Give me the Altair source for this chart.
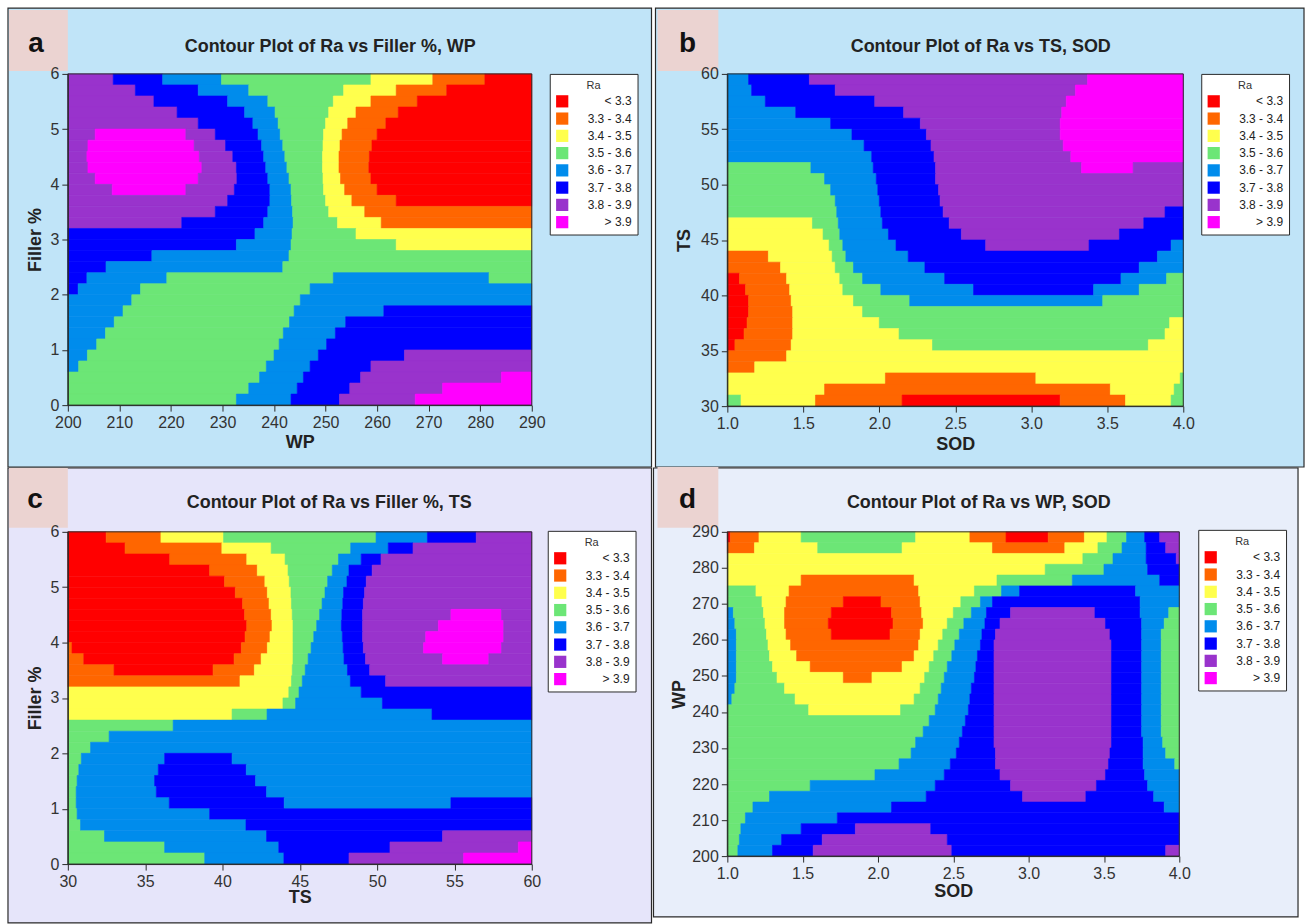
import altair as alt
import pandas as pd

# ---------------- data ----------------
BANDS = ["< 3.3", "3.3 - 3.4", "3.4 - 3.5", "3.5 - 3.6",
         "3.6 - 3.7", "3.7 - 3.8", "3.8 - 3.9", "> 3.9"]
BAND_COLORS = ["#FF0000", "#FF6600", "#FFFF4D", "#6CE676",
               "#008CEC", "#0000FF", "#9933CC", "#FF00FF"]

# each row: band index, right end of that band, band index, right end, ...
# Panel a: rows of Filler % from 6 down to 0 (0.2 each), x = WP
A_ROWS = [
    [6, 208.8, 5, 218.4, 4, 229.8, 3, 258.8, 2, 270.8, 1, 280.9, 0, 290],
    [6, 213.1, 5, 225.3, 4, 235.1, 3, 253.5, 2, 263.7, 1, 273.5, 0, 290],
    [6, 216.7, 5, 231.0, 4, 238.8, 3, 251.5, 2, 258.8, 1, 267.8, 0, 290],
    [6, 221.2, 5, 234.3, 4, 240.2, 3, 250.6, 2, 255.9, 1, 264.1, 0, 290],
    [6, 225.3, 5, 235.9, 4, 240.8, 3, 250.0, 2, 254.3, 1, 261.7, 0, 290],
    [6, 205.3, 7, 222.9, 6, 228.6, 5, 236.9, 4, 241.2, 3, 249.6, 2, 253.2, 1, 260.0, 0, 290],
    [6, 203.9, 7, 224.5, 6, 230.6, 5, 237.6, 4, 241.7, 3, 249.5, 2, 252.8, 1, 259.0, 0, 290],
    [6, 203.7, 7, 225.5, 6, 232.0, 5, 238.0, 4, 242.1, 3, 249.4, 2, 252.6, 1, 258.5, 0, 290],
    [6, 203.9, 7, 226.0, 6, 232.7, 5, 238.4, 4, 242.5, 3, 249.4, 2, 252.6, 1, 258.4, 0, 290],
    [6, 205.3, 7, 225.3, 6, 232.8, 5, 238.8, 4, 242.9, 3, 249.5, 2, 252.9, 1, 258.8, 0, 290],
    [6, 208.6, 7, 222.9, 6, 232.3, 5, 239.2, 4, 243.3, 3, 249.6, 2, 253.7, 1, 260.0, 0, 290],
    [6, 231.0, 5, 239.2, 4, 243.4, 3, 250.0, 2, 255.1, 1, 263.7, 0, 290],
    [6, 228.6, 5, 238.8, 4, 243.6, 3, 250.6, 2, 257.6, 1, 290],
    [6, 222.1, 5, 238.0, 4, 243.7, 3, 252.3, 2, 260.8, 1, 290],
    [5, 236.3, 4, 243.5, 3, 255.9, 2, 290],
    [5, 232.7, 4, 243.3, 3, 263.7, 2, 290],
    [5, 216.3, 4, 242.9, 3, 290],
    [5, 207.4, 4, 241.7, 3, 290],
    [5, 203.7, 4, 219.2, 3, 251.5, 4, 281.7, 3, 290],
    [5, 202.0, 4, 214.1, 3, 247.0, 4, 290],
    [4, 212.4, 3, 245.1, 4, 290],
    [4, 210.7, 3, 243.9, 4, 261.3, 5, 290],
    [4, 209.0, 3, 243.0, 4, 253.9, 5, 290],
    [4, 207.3, 3, 241.8, 4, 251.9, 5, 290],
    [4, 205.6, 3, 241.0, 4, 250.2, 5, 290],
    [4, 203.8, 3, 240.0, 4, 248.6, 5, 265.3, 6, 290],
    [4, 202.1, 3, 238.5, 4, 247.0, 5, 258.8, 6, 290],
    [3, 237.2, 4, 245.7, 5, 256.8, 6, 284.1, 7, 290],
    [3, 235.1, 4, 244.5, 5, 254.7, 6, 272.7, 7, 290],
    [3, 232.7, 4, 243.3, 5, 252.7, 6, 267.4, 7, 290],
]

# Panel b: rows of TS from 60 down to 30 (1 each), x = SOD
B_ROWS = [
    [4, 1.14, 5, 1.54, 6, 3.37, 7, 4.0],
    [4, 1.16, 5, 1.71, 6, 3.29, 7, 4.0],
    [4, 1.25, 5, 1.97, 6, 3.23, 7, 4.0],
    [4, 1.45, 5, 2.16, 6, 3.20, 7, 4.0],
    [4, 1.68, 5, 2.27, 6, 3.19, 7, 4.0],
    [4, 1.82, 5, 2.31, 6, 3.19, 7, 4.0],
    [4, 1.90, 5, 2.34, 6, 3.21, 7, 4.0],
    [4, 1.95, 5, 2.36, 6, 3.26, 7, 4.0],
    [3, 1.55, 4, 1.96, 5, 2.37, 6, 3.33, 7, 3.67, 6, 4.0],
    [3, 1.64, 4, 1.98, 5, 2.37, 6, 4.0],
    [3, 1.68, 4, 1.99, 5, 2.39, 6, 4.0],
    [3, 1.71, 4, 2.00, 5, 2.40, 6, 4.0],
    [3, 1.72, 4, 2.01, 5, 2.42, 6, 3.88, 5, 4.0],
    [2, 1.56, 3, 1.73, 4, 2.02, 5, 2.46, 6, 3.74, 5, 4.0],
    [2, 1.63, 3, 1.74, 4, 2.06, 5, 2.54, 6, 3.58, 5, 4.0],
    [2, 1.67, 3, 1.76, 4, 2.11, 5, 2.70, 6, 3.38, 5, 3.92, 4, 4.0],
    [1, 1.27, 2, 1.69, 3, 1.78, 4, 2.19, 5, 3.83, 4, 4.0],
    [1, 1.35, 2, 1.71, 3, 1.83, 4, 2.30, 5, 3.71, 4, 4.0],
    [0, 1.08, 1, 1.39, 2, 1.74, 3, 1.89, 4, 2.43, 5, 3.59, 4, 3.89, 3, 4.0],
    [0, 1.12, 1, 1.41, 2, 1.76, 3, 2.01, 4, 2.62, 5, 3.41, 4, 3.71, 3, 4.0],
    [0, 1.14, 1, 1.42, 2, 1.83, 3, 2.20, 4, 3.47, 3, 4.0],
    [0, 1.14, 1, 1.43, 2, 1.89, 3, 4.0],
    [0, 1.13, 1, 1.43, 2, 2.00, 3, 3.91, 2, 4.0],
    [0, 1.11, 1, 1.43, 2, 2.13, 3, 3.88, 2, 4.0],
    [0, 1.05, 1, 1.42, 2, 2.35, 3, 3.77, 2, 4.0],
    [1, 1.39, 2, 4.0],
    [1, 1.18, 2, 4.0],
    [2, 2.04, 1, 3.03, 2, 3.98, 3, 4.0],
    [2, 1.64, 1, 3.52, 2, 3.94, 3, 4.0],
    [3, 1.09, 2, 1.58, 1, 2.15, 0, 3.19, 1, 3.62, 2, 3.92, 3, 4.0],
]

# Panel c: rows of Filler % from 6 down to 0 (0.2 each), x = TS
C_ROWS = [
    [0, 32.48, 1, 36.02, 2, 40.07, 3, 49.93, 4, 53.25, 5, 56.41, 6, 60],
    [0, 33.70, 1, 39.96, 2, 43.15, 3, 48.29, 4, 50.72, 5, 52.32, 6, 60],
    [0, 36.59, 1, 41.57, 2, 44.05, 3, 47.50, 4, 48.97, 5, 50.25, 6, 60],
    [0, 39.17, 1, 42.25, 2, 44.24, 3, 47.10, 4, 48.18, 5, 49.68, 6, 60],
    [0, 40.13, 1, 42.74, 2, 44.32, 3, 46.80, 4, 48.05, 5, 49.30, 6, 60],
    [0, 40.83, 1, 42.90, 2, 44.43, 3, 46.63, 4, 47.83, 5, 49.19, 6, 60],
    [0, 41.30, 1, 43.01, 2, 44.46, 3, 46.44, 4, 47.78, 5, 49.11, 6, 60],
    [0, 41.43, 1, 43.15, 2, 44.51, 3, 46.28, 4, 47.72, 5, 49.06, 6, 54.77, 7, 58.04, 6, 60],
    [0, 41.57, 1, 43.20, 2, 44.56, 3, 46.09, 4, 47.69, 5, 49.06, 6, 53.96, 7, 58.18, 6, 60],
    [0, 41.46, 1, 43.07, 2, 44.56, 3, 45.90, 4, 47.75, 5, 49.06, 6, 53.14, 7, 58.18, 6, 60],
    [1, 30.27, 0, 41.22, 1, 42.90, 2, 44.56, 3, 45.73, 4, 47.80, 5, 49.11, 6, 53.00, 7, 58.04, 6, 60],
    [1, 31.03, 0, 40.75, 1, 42.50, 2, 44.56, 3, 45.54, 4, 47.86, 5, 49.25, 6, 54.23, 7, 57.22, 6, 60],
    [1, 32.99, 0, 39.39, 1, 42.06, 2, 44.51, 3, 45.35, 4, 48.08, 5, 49.52, 6, 60],
    [1, 41.13, 2, 44.46, 3, 45.16, 4, 48.27, 5, 50.55, 6, 60],
    [2, 44.29, 3, 44.95, 4, 48.97, 5, 60],
    [2, 43.91, 3, 44.73, 4, 50.34, 5, 60],
    [2, 40.62, 3, 42.88, 4, 53.55, 5, 60],
    [3, 36.81, 4, 60],
    [3, 32.67, 4, 60],
    [3, 31.47, 4, 60],
    [3, 30.87, 4, 36.26, 5, 40.62, 4, 60],
    [3, 30.71, 4, 35.85, 5, 41.54, 4, 60],
    [3, 30.60, 4, 35.61, 5, 42.14, 4, 60],
    [3, 30.54, 4, 35.72, 5, 42.85, 4, 60],
    [3, 30.54, 4, 36.56, 5, 43.99, 4, 54.77, 5, 60],
    [3, 30.60, 4, 39.17, 5, 60],
    [3, 30.82, 4, 41.52, 5, 60],
    [3, 32.37, 4, 42.85, 5, 54.23, 6, 60],
    [3, 36.26, 4, 43.64, 5, 50.83, 6, 59.13, 7, 60],
    [3, 38.85, 4, 43.97, 5, 48.18, 6, 55.59, 7, 60],
]

# Panel d: rows of WP from 290 down to 200 (3 each), x = SOD
D_ROWS = [
    [0, 1.02, 1, 1.21, 2, 1.49, 3, 2.25, 2, 2.61, 1, 2.85, 0, 3.13, 1, 3.37, 2, 3.52, 3, 3.65, 4, 3.77, 5, 3.87, 6, 4.0],
    [1, 1.18, 2, 1.60, 3, 2.16, 2, 2.76, 1, 3.24, 2, 3.46, 3, 3.62, 4, 3.78, 5, 3.91, 6, 4.0],
    [2, 3.36, 3, 3.56, 4, 3.78, 5, 3.98, 6, 4.0],
    [2, 3.11, 3, 3.50, 4, 3.79, 5, 4.0],
    [2, 1.49, 1, 2.24, 2, 2.79, 3, 3.29, 4, 3.87, 5, 4.0],
    [3, 1.19, 2, 1.41, 1, 2.27, 2, 2.64, 3, 2.82, 4, 2.94, 5, 3.71, 4, 4.0],
    [3, 1.23, 2, 1.39, 1, 1.77, 0, 2.02, 1, 2.28, 2, 2.55, 3, 2.68, 4, 2.76, 5, 3.74, 4, 4.0],
    [4, 1.04, 3, 1.24, 2, 1.38, 1, 1.69, 0, 2.09, 1, 2.29, 2, 2.50, 3, 2.62, 4, 2.72, 5, 2.88, 6, 3.44, 5, 3.74, 4, 3.93, 3, 4.0],
    [4, 1.05, 3, 1.25, 2, 1.38, 1, 1.67, 0, 2.10, 1, 2.30, 2, 2.46, 3, 2.57, 4, 2.71, 5, 2.81, 6, 3.51, 5, 3.75, 4, 3.90, 3, 4.0],
    [4, 1.06, 3, 1.26, 2, 1.39, 1, 1.69, 0, 2.08, 1, 2.28, 2, 2.43, 3, 2.54, 4, 2.69, 5, 2.78, 6, 3.54, 5, 3.75, 4, 3.88, 3, 4.0],
    [4, 1.06, 3, 1.27, 2, 1.42, 1, 2.27, 2, 2.40, 3, 2.51, 4, 2.68, 5, 2.77, 6, 3.55, 5, 3.75, 4, 3.88, 3, 4.0],
    [4, 1.06, 3, 1.28, 2, 1.46, 1, 2.24, 2, 2.37, 3, 2.49, 4, 2.66, 5, 2.77, 6, 3.55, 5, 3.75, 4, 3.88, 3, 4.0],
    [4, 1.06, 3, 1.30, 2, 1.55, 1, 2.16, 2, 2.34, 3, 2.46, 4, 2.65, 5, 2.77, 6, 3.55, 5, 3.75, 4, 3.88, 3, 4.0],
    [4, 1.06, 3, 1.33, 2, 1.77, 1, 1.96, 2, 2.31, 3, 2.44, 4, 2.64, 5, 2.77, 6, 3.55, 5, 3.75, 4, 3.88, 3, 4.0],
    [4, 1.05, 3, 1.38, 2, 2.28, 3, 2.42, 4, 2.62, 5, 2.77, 6, 3.55, 5, 3.75, 4, 3.88, 3, 4.0],
    [4, 1.03, 3, 1.45, 2, 2.24, 3, 2.40, 4, 2.61, 5, 2.77, 6, 3.55, 5, 3.75, 4, 3.88, 3, 4.0],
    [3, 1.54, 2, 2.15, 3, 2.38, 4, 2.60, 5, 2.77, 6, 3.55, 5, 3.75, 4, 3.88, 3, 4.0],
    [3, 2.34, 4, 2.58, 5, 2.77, 6, 3.55, 5, 3.75, 4, 3.88, 3, 4.0],
    [3, 2.30, 4, 2.56, 5, 2.77, 6, 3.55, 5, 3.75, 4, 3.88, 3, 4.0],
    [3, 2.25, 4, 2.54, 5, 2.77, 6, 3.55, 5, 3.76, 4, 3.89, 3, 4.0],
    [3, 2.22, 4, 2.52, 5, 2.78, 6, 3.54, 5, 3.76, 4, 3.91, 3, 4.0],
    [3, 2.14, 4, 2.48, 5, 2.78, 6, 3.53, 5, 3.76, 4, 3.97, 3, 4.0],
    [3, 1.98, 4, 2.44, 5, 2.81, 6, 3.51, 5, 3.77, 4, 4.0],
    [3, 1.55, 4, 2.38, 5, 2.88, 6, 3.45, 5, 3.79, 4, 4.0],
    [3, 1.28, 4, 2.32, 5, 2.96, 6, 3.38, 5, 3.83, 4, 4.0],
    [3, 1.17, 4, 2.09, 5, 3.90, 4, 4.0],
    [3, 1.12, 4, 1.73, 5, 4.0],
    [3, 1.09, 4, 1.49, 5, 1.85, 6, 2.35, 5, 4.0],
    [3, 1.08, 4, 1.36, 5, 1.63, 6, 2.46, 5, 4.0],
    [3, 1.07, 4, 1.30, 5, 1.57, 6, 2.49, 5, 3.91, 6, 4.0],
]

WP_TICKS = [200, 210, 220, 230, 240, 250, 260, 270, 280, 290]
FILLER_TICKS = [0, 1, 2, 3, 4, 5, 6]
SOD_TICKS = [1.0, 1.5, 2.0, 2.5, 3.0, 3.5, 4.0]
TS_TICKS = [30, 35, 40, 45, 50, 55, 60]

TITLES = ["Contour Plot of Ra vs Filler %, WP", "Contour Plot of Ra vs TS, SOD",
          "Contour Plot of Ra vs Filler %, TS", "Contour Plot of Ra vs WP, SOD"]
LETTERS = ["a", "b", "c", "d"]

# ---------------- styling / layout ----------------
FONT = "'Liberation Sans Narrow', 'Liberation Sans', Arial, sans-serif"
LETTER_FONT = "'Liberation Sans', Arial, sans-serif"
DARK = "#2a2a2a"
ONE = pd.DataFrame({"k": [0]})


def rows_to_frame(rows, x_start, y_start, y_step):
    recs = []
    for i, row in enumerate(rows):
        top = y_start - i * y_step
        bottom = top - y_step
        left = x_start
        for k in range(0, len(row), 2):
            recs.append({"x": left, "x2": row[k + 1], "y": bottom, "y2": top,
                         "band": BANDS[row[k]]})
            left = row[k + 1]
    return pd.DataFrame(recs)


def deco_rect(x0, x1, y0, y1, **style):
    return alt.Chart(ONE).mark_rect(**style).encode(
        x=alt.value(x0), x2=alt.value(x1), y=alt.value(y0), y2=alt.value(y1))


def deco_text(x, y, text, **style):
    return alt.Chart(ONE).mark_text(text=text, **style).encode(
        x=alt.value(x), y=alt.value(y))


def panel(rows, x_dom, y_dom, y_step, x_ticks, y_ticks, x_fmt, y_fmt,
          x_title, y_title, title, letter, g):
    W, H = g["W"], g["H"]
    df = rows_to_frame(rows, x_dom[0], y_dom[1], y_step)
    cscale = alt.Scale(domain=BANDS, range=BAND_COLORS)
    common = dict(labelFont=FONT, labelFontSize=16, labelColor="#333",
                  titleFont=FONT, titleFontSize=18, titleFontWeight="bold",
                  titleColor="#222", tickSize=6, tickColor=DARK,
                  domainColor=DARK, grid=False, zindex=1,
                  labelFlush=False, labelOverlap=False)
    x_axis = alt.Axis(values=x_ticks, format=x_fmt, title=x_title,
                      labelPadding=3, titleX=W / 2, titleY=g["xt"],
                      titleBaseline="middle", titleAlign="center", **common)
    y_axis = alt.Axis(values=y_ticks, format=y_fmt, title=y_title,
                      labelPadding=3, titleX=g["yt"], titleY=H / 2,
                      titleAngle=270, titleBaseline="middle",
                      titleAlign="center", **common)
    legend = alt.Legend(title="Ra", orient="none", legendX=g["leg"][0],
                        legendY=g["leg"][1], direction="vertical",
                        fillColor="white", strokeColor=DARK, padding=6,
                        titleFont=FONT, titleFontSize=11,
                        titleFontWeight="normal", titleColor="#333",
                        titleAnchor="middle", titlePadding=4,
                        symbolType="square", symbolSize=150,
                        symbolStrokeWidth=0, symbolOpacity=1,
                        labelFont=FONT, labelFontSize=12, labelColor="#222",
                        labelAlign="right", labelOffset=63, rowPadding=4.3,
                        zindex=2)
    contour = alt.Chart(df).mark_rect(strokeWidth=0.6).encode(
        x=alt.X("x:Q", scale=alt.Scale(domain=x_dom, nice=False, zero=False),
                axis=x_axis),
        x2="x2:Q",
        y=alt.Y("y:Q", scale=alt.Scale(domain=y_dom, nice=False, zero=False),
                axis=y_axis),
        y2="y2:Q",
        color=alt.Color("band:N", scale=cscale, legend=legend),
        stroke=alt.Stroke("band:N", scale=cscale, legend=None),
    )
    bg = deco_rect(*g["bg"], fill=g["fill"], stroke=DARK, strokeWidth=1.2)
    frame = deco_rect(0, W, 0, H, fillOpacity=0, stroke=DARK, strokeWidth=1)
    box = deco_rect(*g["box"], fill="#EBD3D1")
    let = deco_text(g["let"][0], g["let"][1], letter, font=LETTER_FONT,
                    fontSize=28, fontWeight="bold", color="#111",
                    align="center", baseline="alphabetic")
    ttl = deco_text(g["ttl"][0], g["ttl"][1], title, font=FONT, fontSize=18,
                    fontWeight="bold", color="#222", align="center",
                    baseline="alphabetic")
    return alt.layer(bg, contour, frame, box, let, ttl).properties(
        width=W, height=H)


GEOM_A = dict(W=465, H=332, bg=(-60, 585, -66, 394), fill="#C0E4F8",
              box=(-59, 0, -64, -3), let=(-32, -22), ttl=(263, -22),
              leg=(483, 0), xt=37, yt=-32)
GEOM_B = dict(W=457, H=333, bg=(-72, 578, -66, 394), fill="#C0E4F8",
              box=(-70, -9, -64, -3), let=(-40, -22), ttl=(254, -22),
              leg=(475, 0), xt=38, yt=-43)
GEOM_C = dict(W=465, H=333, bg=(-60, 585, -64, 392), fill="#E6E5FA",
              box=(-59, 0, -64, -4), let=(-33, -24), ttl=(262, -24),
              leg=(481, -1), xt=34, yt=-32)
GEOM_D = dict(W=453, H=325, bg=(-74, 572, -64, 386), fill="#E8EEFA",
              box=(-70, -9, -65, -4), let=(-40, -24), ttl=(252, -24),
              leg=(472, -2), xt=35, yt=-48)

pa = panel(A_ROWS, [200, 290], [0, 6], 0.2, WP_TICKS, FILLER_TICKS, "d", "d",
           "WP", "Filler %", TITLES[0], LETTERS[0], GEOM_A)
pb = panel(B_ROWS, [1, 4], [30, 60], 1.0, SOD_TICKS, TS_TICKS, ".1f", "d",
           "SOD", "TS", TITLES[1], LETTERS[1], GEOM_B)
pc = panel(C_ROWS, [30, 60], [0, 6], 0.2, TS_TICKS, FILLER_TICKS, "d", "d",
           "TS", "Filler %", TITLES[2], LETTERS[2], GEOM_C)
pd_ = panel(D_ROWS, [1, 4], [200, 290], 3.0, SOD_TICKS, WP_TICKS, ".1f", "d",
            "SOD", "WP", TITLES[3], LETTERS[3], GEOM_D)

chart = alt.concat(
    pa, pb, pc, pd_, columns=2, bounds="flush",
    spacing=alt.RowColnumber(row=126, column=196),
).resolve_scale(color="independent", stroke="independent").resolve_legend(
    color="independent", stroke="independent"
).properties(
    padding={"left": 6, "top": 5, "right": 0, "bottom": 0},
    background="white",
).configure_view(stroke="transparent")

chart.save("out.html", embed_options={"renderer": "svg", "actions": False})
